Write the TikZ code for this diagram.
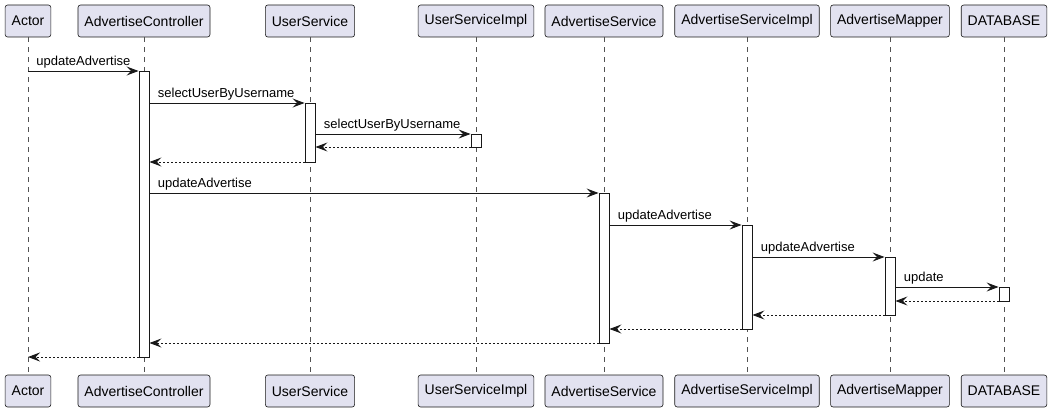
\documentclass[tikz,border=0pt]{standalone}
\usepackage{fontspec}
\setmainfont{Liberation Sans}
\usetikzlibrary{arrows.meta}
\definecolor{hdr}{HTML}{E2E2F0}
\definecolor{ink}{HTML}{181818}
\begin{document}
\begin{tikzpicture}[x=1pt,y=-1pt,
 part/.style={draw=ink, line width=0.6pt, fill=hdr, rounded corners=2.5pt, minimum height=32pt, inner xsep=6.5pt, font=\fontsize{14}{16}\selectfont},
 life/.style={draw=ink!75, line width=0.6pt, dash pattern=on 5pt off 5pt},
 act/.style={draw=ink, line width=0.9pt, fill=white, minimum width=10pt, inner sep=0pt, anchor=north},
 msg/.style={draw=ink, line width=0.9pt, -{Stealth[length=12pt,width=9pt,inset=4.5pt]}},
 ret/.style={msg, dash pattern=on 2pt off 2pt},
 lbl/.style={pos=0, anchor=base west, inner sep=0pt, xshift=8pt, yshift=5.5pt, font=\fontsize{13}{15}\selectfont}]
\useasboundingbox (0,0) rectangle (1052,412);
\foreach \n/\x/\t in {Actor/28/Actor, AC/144/AdvertiseController, US/310/UserService, USI/476/UserServiceImpl, AS/604/AdvertiseService, ASI/747/AdvertiseServiceImpl, AM/890/AdvertiseMapper, DB/1004/DATABASE}{
  \node[part] (\n-top) at (\x,21) {\t};
  \node[part] (\n-bot) at (\x,391) {\t};
  \draw[life] (\n-top) -- (\n-bot);
}
% activations
\node[act, minimum height=286pt] (aAC) at (144,71) {};
\node[act, minimum height=59pt] (aUS) at (310,103) {};
\node[act, minimum height=13pt] (aUSI) at (476,134) {};
\node[act, minimum height=150pt] (aAS) at (604,193) {};
\node[act, minimum height=104pt] (aASI) at (747,225) {};
\node[act, minimum height=58pt] (aAM) at (890,257) {};
\node[act, minimum height=14pt] (aDB) at (1004,287) {};
% rows
\coordinate (r1) at (0,71);
\coordinate (r2) at (0,103);
\coordinate (r3) at (0,134);
\coordinate (r4) at (0,147);
\coordinate (r5) at (0,162);
\coordinate (r6) at (0,193);
\coordinate (r7) at (0,225);
\coordinate (r8) at (0,257);
\coordinate (r9) at (0,287);
\coordinate (r10) at (0,301);
\coordinate (r11) at (0,315);
\coordinate (r12) at (0,329);
\coordinate (r13) at (0,343);
\coordinate (r14) at (0,357);
% messages
\draw[msg] (Actor-top |- r1) -- node[lbl]{updateAdvertise} (aAC.west |- r1);
\draw[msg] (aAC.east |- r2) -- node[lbl]{selectUserByUsername} (aUS.west |- r2);
\draw[msg] (aUS.east |- r3) -- node[lbl]{selectUserByUsername} (aUSI.west |- r3);
\draw[ret] (aUSI.west |- r4) -- (aUS.east |- r4);
\draw[ret] (aUS.west |- r5) -- (aAC.east |- r5);
\draw[msg] (aAC.east |- r6) -- node[lbl]{updateAdvertise} (aAS.west |- r6);
\draw[msg] (aAS.east |- r7) -- node[lbl]{updateAdvertise} (aASI.west |- r7);
\draw[msg] (aASI.east |- r8) -- node[lbl]{updateAdvertise} (aAM.west |- r8);
\draw[msg] (aAM.east |- r9) -- node[lbl]{update} (aDB.west |- r9);
\draw[ret] (aDB.west |- r10) -- (aAM.east |- r10);
\draw[ret] (aAM.west |- r11) -- (aASI.east |- r11);
\draw[ret] (aASI.west |- r12) -- (aAS.east |- r12);
\draw[ret] (aAS.west |- r13) -- (aAC.east |- r13);
\draw[ret] (aAC.west |- r14) -- (Actor-top |- r14);
\end{tikzpicture}
\end{document}
